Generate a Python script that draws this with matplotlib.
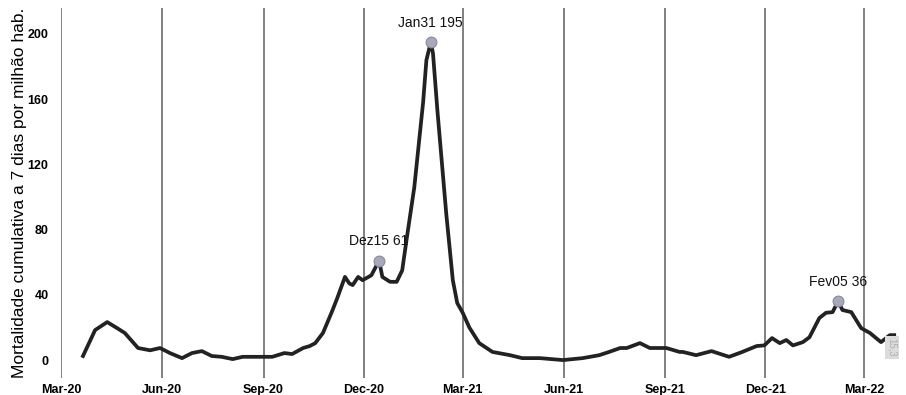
import pandas as pd
import matplotlib.pyplot as plt

plt.rcParams['font.family'] = ['Liberation Sans', 'DejaVu Sans']

# dias desde 2020-03-01 e mortalidade a 7 dias por milhão
dias = [20, 31, 42, 51, 58, 70, 81, 90, 99, 110, 119, 128, 137, 146, 156, 165,
        183, 192, 203, 210, 220, 226, 231, 238, 246, 251, 258, 262, 265, 270,
        274, 282, 289, 292, 299, 305, 310, 314, 321, 329, 332, 336, 338, 342,
        350, 356, 360, 365, 371, 380, 392, 408, 419, 435, 456, 474, 489, 498,
        508, 514, 526, 535, 544, 550, 562, 565, 577, 591, 607, 619, 632, 639,
        646, 653, 659, 665, 674, 680, 689, 695, 701, 706, 710, 718, 727, 735,
        745, 753, 757]
valores = [2.5, 18.4, 23.3, 19.6, 16.6, 7.4, 6, 7.4, 4.3, 1.2, 4.3, 5.5, 2.5,
           2, 0.6, 2, 2, 2, 4.3, 3.7, 7.4, 8.6, 10.4, 16.6, 29.4, 38, 51, 47,
           46, 51, 49, 52, 61, 51, 48, 48, 55, 74, 106, 158, 184, 195, 188,
           153, 90, 49, 35, 29, 20, 10.4, 5, 3, 1.2, 1.2, 0, 1.2, 3, 5, 7.4,
           7.4, 10.4, 7.4, 7.4, 7.4, 5, 5, 3, 5.5, 2, 5, 8.6, 9, 13.5, 10.4,
           12.3, 9, 11, 14, 25.8, 29, 29.4, 36, 30.7, 29.4, 19.6, 16.6, 11,
           15.3, 15.3]

picos = ['2020-12-15', '2021-01-31', '2022-02-05']
picos_val = [61, 195, 36]
picos_txt = ['Dez15 61', 'Jan31 195', 'Fev05 36']

ticks = pd.date_range('2020-03-01', '2022-03-01', freq='3MS')
ticks_txt = ['Mar-20', 'Jun-20', 'Sep-20', 'Dec-20', 'Mar-21', 'Jun-21',
             'Sep-21', 'Dec-21', 'Mar-22']

datas = pd.Timestamp('2020-03-01') + pd.to_timedelta(dias, unit='D')

fig = plt.figure(figsize=(9.06, 3.95), dpi=100)
ax = fig.add_axes([0.0673, 0.043, 0.9294, 0.937])

for t in ticks:
    ax.axvline(t, color='#808080', lw=1.4, zorder=1)

ax.plot(datas, valores, color='#222222', lw=2.7, zorder=3,
        solid_joinstyle='round')

for d, v, s in zip(picos, picos_val, picos_txt):
    d = pd.Timestamp(d)
    ax.scatter([d], [v], s=60, color='#a8a8bc', edgecolor='#888899',
               linewidth=0.8, zorder=4)
    ax.annotate(s, (d, v), xytext=(0, 9), textcoords='offset points',
                ha='center', va='bottom', fontsize=10, color='#111111')

ax.text(datas[-1] - pd.Timedelta(days=2), valores[-1] - 2, '15,3',
        rotation=270, fontsize=7, color='#b0b0b0', ha='center', va='top',
        bbox=dict(facecolor='#dcdcdc', edgecolor='none', pad=1.5))

ax.set_xlim(pd.Timestamp('2020-03-01'), pd.Timestamp('2022-04-05'))
ax.set_ylim(-11, 216)
ax.set_xticks(ticks)
ax.set_xticklabels(ticks_txt, fontweight='bold', fontsize=9)
ax.set_yticks([0, 40, 80, 120, 160, 200])
ax.set_yticklabels(['0', '40', '80', '120', '160', '200'],
                   fontweight='bold', fontsize=9)
ax.tick_params(length=0, pad=4)
ax.tick_params(axis='y', pad=9)
for s in ax.spines.values():
    s.set_visible(False)
ax.set_ylabel('Mortalidade cumulativa a 7 dias por milhão hab.', fontsize=12.5,
              labelpad=0)

fig.savefig('out.png', dpi=100)
